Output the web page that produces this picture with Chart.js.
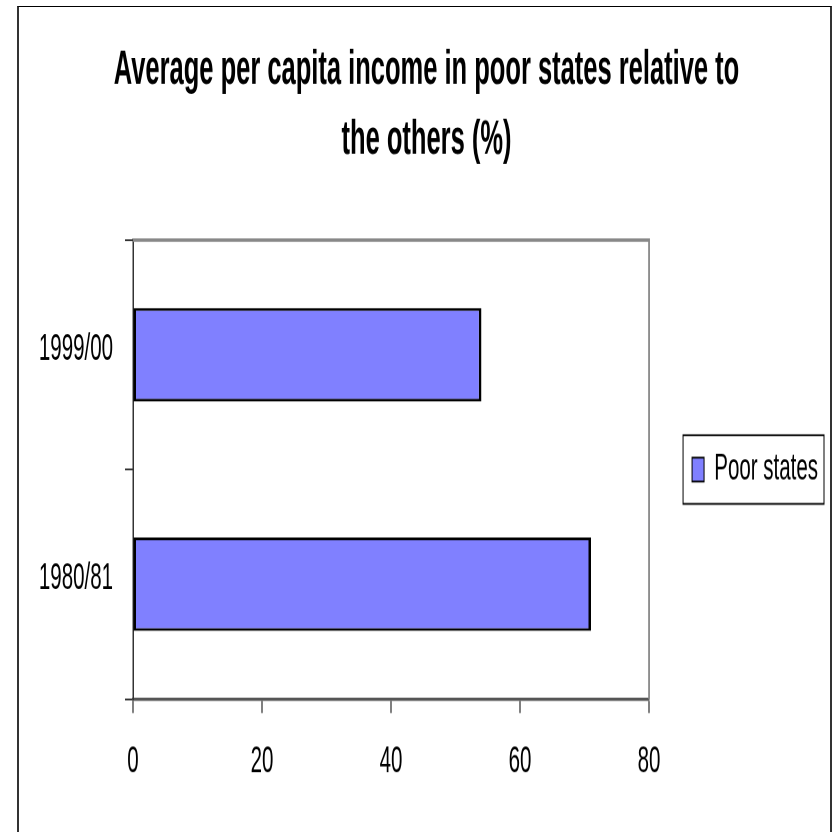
<!DOCTYPE html>
<html>
<head>
<meta charset="utf-8">
<script src="https://cdn.jsdelivr.net/npm/chart.js@4.4.1/dist/chart.umd.min.js"></script>
<style>
  html, body { margin: 0; padding: 0; background: #fff; }
  #page { position: relative; width: 834px; height: 832px; overflow: hidden; background: #fff; }
  #wrap { position: absolute; left: 0; top: 0; width: 834px; height: 452px; transform: scaleY(1.840708); transform-origin: 0 0; }
  #frame { position: absolute; left: 17px; top: 6px; width: 815px; height: 830px; box-sizing: border-box;
           border-left: 2px solid #333; border-top: 1px solid #000; border-right: 2px solid #333; pointer-events: none; }
</style>
</head>
<body>
<div id="page">
  <div id="wrap"><canvas id="c" width="834" height="452"></canvas></div>
  <div id="frame"></div>
</div>
<script>
// ---- data ----
const categories = ['1980/81', '1999/00'];
const poorStates = [71, 54];
const xTickValues = [0, 20, 40, 60, 80];
const seriesLabel = 'Poor states';
const titleLines = ['Average per capita income in poor states relative to', 'the others (%)'];

Chart.defaults.font.family = '"Liberation Sans", Arial, Helvetica, sans-serif';
Chart.defaults.color = '#000';

const plotFrame = {
  id: 'plotFrame',
  beforeDatasetsDraw(chart) {
    const { ctx, chartArea: a } = chart;
    ctx.save();
    ctx.strokeStyle = '#888';
    ctx.lineWidth = 1.8;
    ctx.beginPath();
    ctx.moveTo(a.left, a.top);
    ctx.lineTo(a.right, a.top);
    ctx.lineTo(a.right, a.bottom);
    ctx.stroke();
    ctx.restore();
  },
  afterDraw(chart) {
    const lg = chart.legend;
    const hb = lg && lg.legendHitBoxes && lg.legendHitBoxes[0];
    if (!hb) return;
    const ctx = chart.ctx;
    ctx.save();
    ctx.strokeStyle = '#000';
    ctx.lineWidth = 1;
    const cy = hb.top + hb.height / 2;
    ctx.strokeRect(hb.left - 9, cy - 18.65, hb.width + 15, 37.3);
    ctx.restore();
  }
};

new Chart(document.getElementById('c'), {
  type: 'bar',
  data: {
    labels: categories,
    datasets: [{
      label: seriesLabel,
      data: poorStates,
      backgroundColor: '#8080FF',
      borderColor: '#000',
      borderWidth: { top: 1.5, bottom: 1.5, left: 2.5, right: 2.5 },
      borderSkipped: false,
      barPercentage: 0.407,
      categoryPercentage: 1
    }]
  },
  options: {
    indexAxis: 'y',
    responsive: false,
    animation: false,
    devicePixelRatio: 2,
    layout: { padding: { top: 0, left: 25, right: 6, bottom: 25.8 } },
    plugins: {
      title: {
        display: true,
        text: titleLines,
        color: '#000',
        font: { size: 25.5, weight: 'bold', lineHeight: 1.485 },
        padding: { top: 19.5, bottom: 35.2 }
      },
      legend: {
        position: 'right',
        align: 'center',
        fullSize: false,
        labels: {
          color: '#000',
          font: { size: 20.5 },
          boxWidth: 12,
          boxHeight: 13,
          padding: 43,
          generateLabels(chart) {
            const items = Chart.defaults.plugins.legend.labels.generateLabels(chart);
            items.forEach(it => { it.lineWidth = 1; });
            return items;
          }
        }
      },
      tooltip: { enabled: false }
    },
    scales: {
      x: {
        type: 'linear',
        min: xTickValues[0],
        max: xTickValues[xTickValues.length - 1],
        afterBuildTicks(s) { s.ticks = xTickValues.map(v => ({ value: v })); },
        afterFit(s) { s.height = 46.45; },
        grid: { display: true, drawOnChartArea: false, drawTicks: true, tickLength: 7.6, color: '#000', lineWidth: 1 },
        border: { display: true, color: '#555', width: 1.8 },
        ticks: { color: '#000', font: { size: 20.5 }, padding: 14.25, maxRotation: 0, autoSkip: false }
      },
      y: {
        reverse: true,
        offset: true,
        grid: { display: true, offset: true, drawOnChartArea: false, drawTicks: true, tickLength: 8, color: '#333', lineWidth: 1 },
        border: { display: true, color: '#333', width: 1.5 },
        ticks: { color: '#000', font: { size: 20.5 }, padding: 12, labelOffset: -3 },
        afterFit(s) { s.width = 108; }
      }
    }
  },
  plugins: [plotFrame]
});
</script>
</body>
</html>
